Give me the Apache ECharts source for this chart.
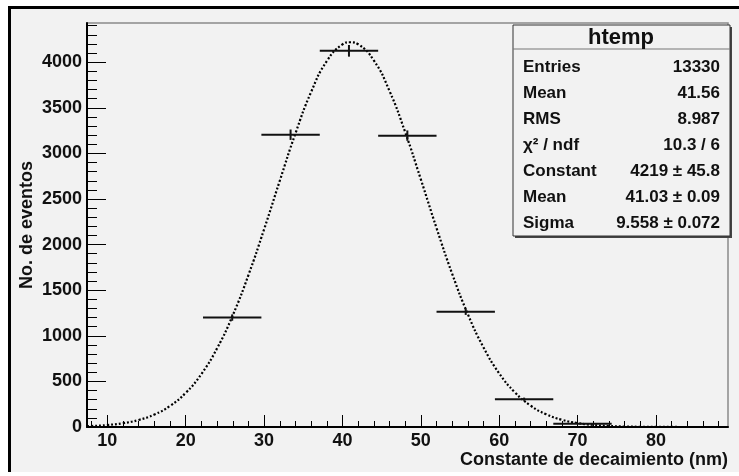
<!doctype html>
<html>
	<head>
		<meta charset="utf-8">
		<title>htemp</title>
		<style>
			body { margin: 0; background: #fff; }
			#frame { position: absolute; left: 8px; top: 6px; width: 728px; height: 463px; border-left: 3px solid #000; border-top: 3px solid #000; background: #f2f2f2; }
			#container { position: absolute; left: 0; top: 0; width: 739px; height: 476px; }
		</style>
	</head>
	<body>
		<div id="frame"></div>
		<div id="container"></div>

		<script src="https://cdn.jsdelivr.net/npm/echarts@6/dist/echarts.min.js"></script>

		<script>
			// histogram (non-empty bins only)
			const binCenters = [25.93, 33.38, 40.83, 48.28, 55.73, 63.18, 70.63];
			const binWidth = 7.45;
			const binCounts = [1200, 3205, 4125, 3195, 1265, 305, 35];
			const binErrors = [35, 57, 64, 57, 36, 17, 6];

			// gaussian fit curve, sampled
			const fitX = [7.4, 8, 10, 12, 14, 16, 18, 20, 22, 24, 26, 28, 30, 32, 34, 36, 38, 40, 41, 42, 44, 46, 48, 50, 52, 54, 56, 58, 60, 62, 64, 66, 68, 70, 72, 74, 76, 78, 80, 82, 84, 86, 88, 89.2];
			const fitY = [8.6, 10.8, 21.7, 41.9, 77.3, 136.7, 231.5, 374.8, 581.5, 862.8, 1225, 1666, 2168, 2700, 3219, 3673, 4012, 4195, 4219, 4197, 4020, 3685, 3234, 2716, 2183, 1680, 1237, 872.5, 588.6, 380.3, 235.0, 139.1, 78.8, 42.7, 22.2, 11.0, 5.2, 2.4, 1.0, 0.4, 0.2, 0.1, 0, 0];

			const xMajor = [10, 20, 30, 40, 50, 60, 70, 80];
			const xMinor = [8, 10, 12, 14, 16, 18, 20, 22, 24, 26, 28, 30, 32, 34, 36, 38, 40, 42, 44, 46, 48, 50, 52, 54, 56, 58, 60, 62, 64, 66, 68, 70, 72, 74, 76, 78, 80, 82, 84, 86, 88];
			const yMajor = [0, 500, 1000, 1500, 2000, 2500, 3000, 3500, 4000];
			const yMinor = [];
			for (let v = 0; v <= 4400; v += 100) yMinor.push(v);

			const statNames = ['Entries', 'Mean', 'RMS', 'χ² / ndf', 'Constant', 'Mean', 'Sigma'];
			const statValues = ['13330', '41.56', '8.987', '10.3 / 6', '4219 ± 45.8', '41.03 ± 0.09', '9.558 ± 0.072'];

			const font = '"Liberation Sans", Arial, sans-serif';
			const ink = '#111';

			function statsGraphic() {
				let items = [
					{ type: 'rect', shape: { x: 515, y: 27, width: 217, height: 211 }, style: { fill: '#444' } },
					{ type: 'rect', shape: { x: 513, y: 25, width: 217, height: 211 }, style: { fill: '#f2f2f2', stroke: '#333', lineWidth: 1 } },
					{ type: 'line', shape: { x1: 513, y1: 49, x2: 730, y2: 49 }, style: { stroke: '#777', lineWidth: 1 } },
					{ type: 'text', x: 621, y: 38, style: { text: 'htemp', font: 'bold 22px ' + font, fill: ink, textAlign: 'center', textVerticalAlign: 'middle' } }
				];
				for (let i = 0; i < statNames.length; i++) {
					let y = 67 + i * 26;
					items.push({ type: 'text', x: 523, y: y, style: { text: statNames[i], font: 'bold 17px ' + font, fill: ink, textAlign: 'left', textVerticalAlign: 'middle' } });
					items.push({ type: 'text', x: 720, y: y, style: { text: statValues[i], font: 'bold 17px ' + font, fill: ink, textAlign: 'right', textVerticalAlign: 'middle' } });
				}
				return items;
			}

			var myChart = echarts.init(document.getElementById('container'));

			let plain = v => String(v);

			let opts = {
				backgroundColor: 'transparent',
				animation: false,
				grid: {
					left: 87, right: 11, top: 23, bottom: 49,
					outerBoundsMode: 'none',
					containLabel: false,
					show: true,
					borderColor: '#8a8a8a',
					borderWidth: 1.5,
					backgroundColor: 'transparent'
				},
				xAxis: [
					{
						type: 'value', min: 7.4, max: 89.2,
						splitLine: { show: false },
						axisLine: { lineStyle: { color: '#000', width: 2 } },
						axisTick: { inside: true, length: 12, customValues: xMajor, lineStyle: { color: '#000', width: 1 } },
						axisLabel: { customValues: xMajor, formatter: plain, margin: 5, color: ink, fontSize: 18, fontWeight: 'bold', fontFamily: font },
						name: 'Constante de decaimiento (nm)',
						nameLocation: 'end',
						nameGap: 0,
						nameMoveOverlap: false,
						nameTextStyle: { align: 'right', verticalAlign: 'top', padding: [24, 0, 0, 0], color: ink, fontSize: 18, fontWeight: 'bold', fontFamily: font }
					},
					{
						type: 'value', min: 7.4, max: 89.2, position: 'bottom',
						splitLine: { show: false },
						axisLine: { show: false },
						axisTick: { inside: true, length: 6, customValues: xMinor, lineStyle: { color: '#000', width: 1 } },
						axisLabel: { show: false }
					}
				],
				yAxis: [
					{
						type: 'value', min: 0, max: 4430,
						splitLine: { show: false },
						axisLine: { show: true, lineStyle: { color: '#000', width: 2 } },
						axisTick: { show: true, inside: true, length: 19, customValues: yMajor, lineStyle: { color: '#000', width: 1 } },
						axisLabel: { customValues: yMajor, formatter: plain, margin: 5, color: ink, fontSize: 18, fontWeight: 'bold', fontFamily: font },
						name: 'No. de eventos',
						nameLocation: 'middle',
						nameRotate: 90,
						nameGap: 51,
						nameMoveOverlap: false,
						nameTextStyle: { color: ink, fontSize: 18, fontWeight: 'bold', fontFamily: font }
					},
					{
						type: 'value', min: 0, max: 4430, position: 'left',
						splitLine: { show: false },
						axisLine: { show: false },
						axisTick: { show: true, inside: true, length: 10, customValues: yMinor, lineStyle: { color: '#000', width: 1 } },
						axisLabel: { show: false }
					}
				],
				series: [
					{
						name: 'fit',
						type: 'line',
						smooth: true,
						showSymbol: false,
						data: fitX.map((x, i) => [x, fitY[i]]),
						lineStyle: { color: '#000', width: 2.2, type: [2, 2] },
						z: 3
					},
					{
						name: 'htemp',
						type: 'custom',
						data: binCenters.map((x, i) => [x, binCounts[i], binErrors[i]]),
						encode: { x: 0, y: 1 },
						renderItem: function (params, api) {
							let xc = api.value(0), y = api.value(1), e = api.value(2);
							let p1 = api.coord([xc - binWidth / 2, y]);
							let p2 = api.coord([xc + binWidth / 2, y]);
							let top = api.coord([xc, y + e]);
							let bot = api.coord([xc, y - e]);
							return {
								type: 'group',
								children: [
									{ type: 'line', shape: { x1: p1[0], y1: p1[1], x2: p2[0], y2: p2[1] }, style: { stroke: ink, lineWidth: 2 } },
									{ type: 'line', shape: { x1: top[0], y1: top[1], x2: bot[0], y2: bot[1] }, style: { stroke: ink, lineWidth: 2 } }
								]
							};
						},
						z: 4
					}
				],
				graphic: statsGraphic()
			};

			myChart.setOption(opts, true);
		</script>
	</body>
</html>
